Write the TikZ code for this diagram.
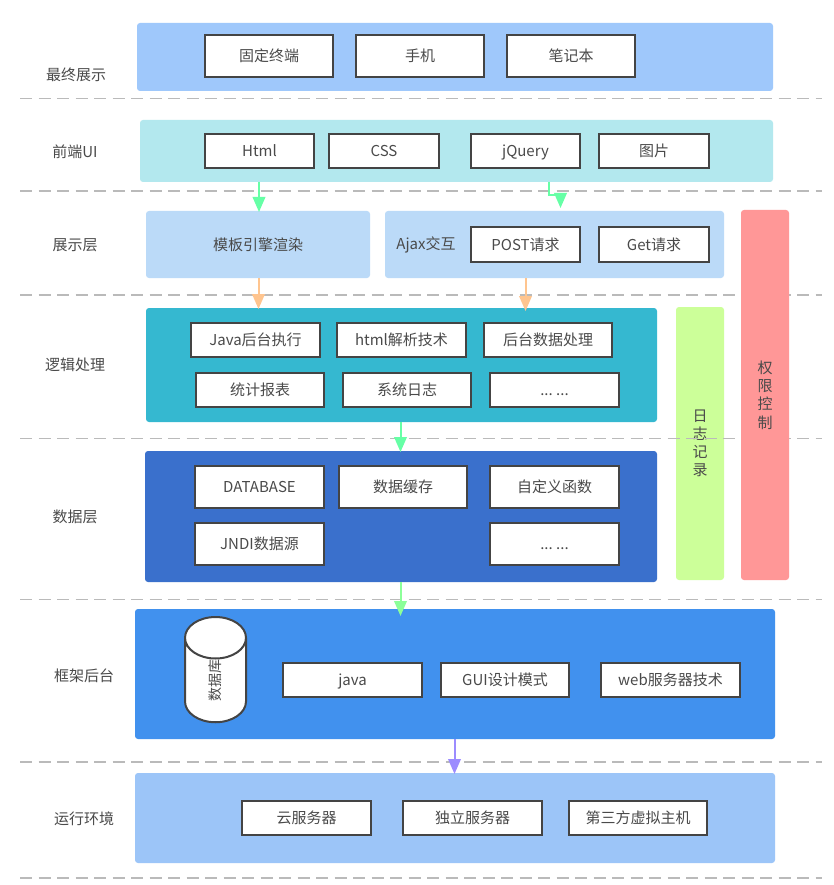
\documentclass[tikz,border=0pt]{standalone}
\usepackage{fontspec}
\setmainfont{Noto Sans CJK SC}
\usetikzlibrary{shapes.geometric,arrows.meta}
\definecolor{txt}{HTML}{4A4A4A}
\definecolor{edge}{HTML}{444444}
\definecolor{cA}{HTML}{9FC8FB}
\definecolor{cB}{HTML}{B3E8EE}
\definecolor{cC}{HTML}{BBDAF8}
\definecolor{cD}{HTML}{35B8D0}
\definecolor{cE}{HTML}{3A70CC}
\definecolor{cF}{HTML}{4191EE}
\definecolor{cG}{HTML}{9CC5F8}
\definecolor{cLog}{HTML}{CCFF99}
\definecolor{cPerm}{HTML}{FF9797}
\definecolor{aGreen}{HTML}{66FFA6}
\definecolor{aLime}{HTML}{8CFF99}
\definecolor{aOrange}{HTML}{FFC58F}
\definecolor{aPurple}{HTML}{9C8CFF}
\newcommand{\dotsrun}{.\kern0pt.\kern0pt.\ .\kern0pt.\kern0pt.}
\tikzset{
  every node/.style={font=\fontsize{15}{18}\selectfont, text=txt, inner sep=0pt, outer sep=0pt},
  band/.style={fill=#1, draw=none, rounded corners=3pt, anchor=north west},
  wbox/.style n args={2}{draw=edge, line width=2pt, fill=white, minimum width=#1, minimum height=#2, text height=13.5pt, text depth=2.5pt},
  lbl/.style={},
  sep/.style={draw=black!27, line width=1.5pt, dash pattern=on 12pt off 6.5pt},
  flow/.style={draw=#1, line width=2pt, -{Triangle[length=15pt,width=12.5pt,fill=#1]}},
}
\begin{document}
\begin{tikzpicture}[x=1pt,y=-1pt]
\useasboundingbox[fill=white] (0,0) rectangle (834,885);

% bands
\node[band=cA, minimum width=636, minimum height=68] (final) at (137,23) {};
\node[band=cB, minimum width=633, minimum height=62] (ui) at (140,120) {};
\node[band=cC, minimum width=224, minimum height=67] (tpl) at (146,211) {模板引擎渲染};
\node[band=cC, minimum width=339, minimum height=67] (ajax) at (385,211) {};
\node[band=cD, minimum width=511, minimum height=114] (logic) at (146,308) {};
\node[band=cE, minimum width=512, minimum height=131] (data) at (145,451) {};
\node[band=cF, minimum width=640, minimum height=130] (frame) at (135,609) {};
\node[band=cG, minimum width=640, minimum height=90] (run) at (135,773) {};
\node[band=cLog, minimum width=48, minimum height=273, align=center] (log) at (676,307) {日\\[0.2pt]志\\[0.2pt]记\\[0.2pt]录};

% separators
\foreach \n/\y in {s1/98.5,s2/191,s3/295,s4/438.5,s5/599.5,s6/762,s7/878}{
  \coordinate (\n a) at (20,\y);
  \coordinate (\n b) at (822,\y);
  \draw[sep] (\n a) -- (\n b);
}

\node[band=cPerm, minimum width=48, minimum height=370, align=center] (perm) at (741,210) {权\\[0.2pt]限\\[0.2pt]控\\[0.2pt]制};

% left labels
\node[lbl] (l1) at (76,75) {最终展示};
\node[lbl] (l2) at (75,152) {前端UI};
\node[lbl] (l3) at (75,245) {展示层};
\node[lbl] (l4) at (75,365) {逻辑处理};
\node[lbl] (l5) at (75,517) {数据层};
\node[lbl] (l6) at (84,676) {框架后台};
\node[lbl] (l7) at (84,819) {运行环境};

% final
\node[wbox={128}{42}] (b11) at (269,56) {固定终端};
\node[wbox={128}{42}] (b12) at (420,56) {手机};
\node[wbox={128}{42}] (b13) at (571,56) {笔记本};
% ui
\node[wbox={109}{34}] (b21) at (259.5,151) {Html};
\node[wbox={110}{34}] (b22) at (384,151) {CSS};
\node[wbox={109}{34}] (b23) at (525.5,151) {jQuery};
\node[wbox={110}{34}] (b24) at (654,151) {图片};
% ajax
\node[lbl] (ajl) at (426,245) {Ajax交互};
\node[wbox={109}{35}] (post) at (525.5,244.5) {POST请求};
\node[wbox={110}{35}] (get) at (654,244.5) {Get请求};
% logic
\node[wbox={129}{34}] (c1) at (255.5,340) {Java后台执行};
\node[wbox={129}{34}] (c2) at (401.5,340) {html解析技术};
\node[wbox={128}{34}] (c3) at (548,340) {后台数据处理};
\node[wbox={128}{34}] (c4) at (260,390) {统计报表};
\node[wbox={128}{34}] (c5) at (407,390) {系统日志};
\node[wbox={129}{34}] (c6) at (554.5,390) {\dotsrun};
% data
\node[wbox={129}{42}] (d1) at (259.5,487) {DATABASE};
\node[wbox={128}{42}] (d2) at (403,487) {数据缓存};
\node[wbox={129}{42}] (d3) at (554.5,487) {自定义函数};
\node[wbox={129}{42}] (d4) at (259.5,544) {JNDI数据源};
\node[wbox={129}{42}] (d5) at (554.5,544) {\dotsrun};
% frame
\node[draw=edge, line width=2pt, fill=white, shape=cylinder, shape aspect=3.2, rotate=90,
      minimum width=61, minimum height=93, font=\fontsize{14}{16}\selectfont] (db) at (215.5,680.5) {数据库};
\node[wbox={139}{34}] (f1) at (352.5,680) {java};
\node[wbox={128}{34}] (f2) at (505,680) {GUI设计模式};
\node[wbox={139}{34}] (f3) at (670.5,680) {web服务器技术};
% run
\node[wbox={129}{34}] (r1) at (306.5,818) {云服务器};
\node[wbox={139}{34}] (r2) at (472.5,818) {独立服务器};
\node[wbox={138}{34}] (r3) at (638,818) {第三方虚拟主机};

% arrows
\coordinate (xa) at (259,0);
\coordinate (xb) at (549,0);
\coordinate (xc) at (560.5,0);
\coordinate (xd) at (258.5,0);
\coordinate (xe) at (525.5,0);
\coordinate (xf) at (400.5,0);
\coordinate (xg) at (454.5,0);
\coordinate (yb) at (0,195);
\draw[flow=aGreen] (ui.south -| xa) -- ([yshift=-1pt]tpl.north -| xa);
\draw[flow=aGreen] (ui.south -| xb) -- (xb |- yb) -- (xc |- yb) -- ([yshift=3pt]ajax.north -| xc);
\draw[flow=aOrange] (tpl.south -| xd) -- ([yshift=-1pt]logic.north -| xd);
\draw[flow=aOrange] (ajax.south -| xe) -- ([yshift=-3pt]logic.north -| xe);
\draw[flow=aGreen] (logic.south -| xf) -- ([yshift=-1pt]data.north -| xf);
\draw[flow=aLime] (data.south -| xf) -- ([yshift=-7pt]frame.north -| xf);
\draw[flow=aPurple] (frame.south -| xg) -- ([yshift=-1pt]run.north -| xg);
\end{tikzpicture}
\end{document}
